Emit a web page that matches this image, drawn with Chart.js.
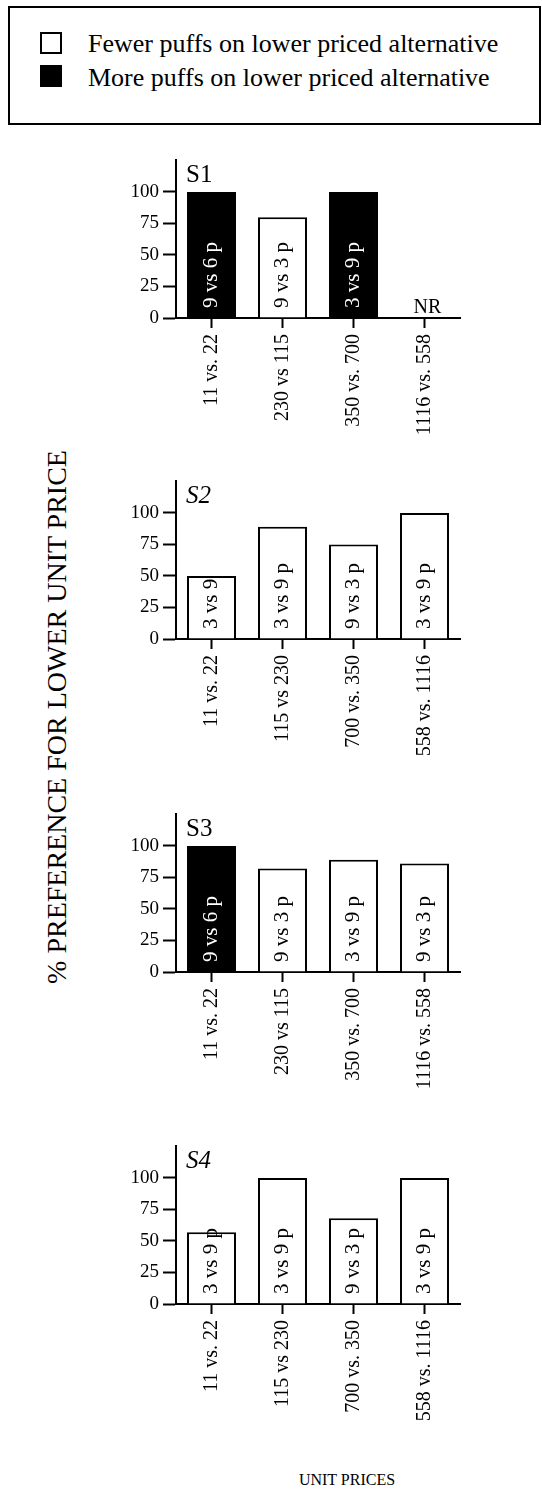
<!DOCTYPE html>
<html>
<head>
<meta charset="utf-8">
<script src="https://cdn.jsdelivr.net/npm/chart.js@4"></script>
<style>
  body { margin: 0; background: #fff; }
  #page { position: relative; width: 542px; height: 1498px; font-family: "Liberation Serif", "Times New Roman", serif; color: #000; }
  canvas { position: absolute; left: 100px; }
  .legend { position: absolute; left: 8px; top: 6px; width: 529px; height: 115px; border: 2px solid #000; }
  .swatch { position: absolute; left: 30px; width: 18px; height: 18px; border: 2px solid #000; }
  .ltext { position: absolute; left: 78px; font-size: 26px; line-height: 26px; white-space: nowrap; }
  .ytitle { position: absolute; left: -243px; top: 703px; width: 600px; text-align: center; font-size: 28px; line-height: 28px; white-space: nowrap; transform: rotate(-90deg); }
  .xtitle { position: absolute; left: 247px; top: 1472px; width: 200px; text-align: center; font-size: 16px; line-height: 16px; }
</style>
</head>
<body>
<div id="page">
  <div class="legend">
    <div class="swatch" style="top:24px;background:#fff"></div>
    <div class="ltext" style="top:23px">Fewer puffs on lower priced alternative</div>
    <div class="swatch" style="top:57px;background:#000"></div>
    <div class="ltext" style="top:57px">More puffs on lower priced alternative</div>
  </div>
  <div class="ytitle">% PREFERENCE FOR LOWER UNIT PRICE</div>
  <canvas id="s1" width="380" height="303" style="top:145px"></canvas>
  <canvas id="s2" width="380" height="303" style="top:466px"></canvas>
  <canvas id="s3" width="380" height="303" style="top:799px"></canvas>
  <canvas id="s4" width="380" height="303" style="top:1131px"></canvas>
  <div class="xtitle">UNIT PRICES</div>
</div>
<script>
// unit prices compared in each subject's sessions
const s1Prices = ['11 vs. 22', '230 vs 115', '350 vs. 700', '1116 vs. 558'];
const s2Prices = ['11 vs. 22', '115 vs 230', '700 vs. 350', '558 vs. 1116'];
const s3Prices = ['11 vs. 22', '230 vs 115', '350 vs. 700', '1116 vs. 558'];
const s4Prices = ['11 vs. 22', '115 vs 230', '700 vs. 350', '558 vs. 1116'];

// % preference for the lower unit price (null = not run)
const s1Pref = [100, 80, 100, null];
const s2Pref = [50, 89, 75, 100];
const s3Pref = [100, 82, 89, 86];
const s4Pref = [57, 100, 68, 100];

// puffs text written in the bars
const s1Puffs = ['9 vs 6 p', '9 vs 3 p', '3 vs 9 p', 'NR'];
const s2Puffs = ['3 vs 9', '3 vs 9 p', '9 vs 3 p', '3 vs 9 p'];
const s3Puffs = ['9 vs 6 p', '9 vs 3 p', '3 vs 9 p', '9 vs 3 p'];
const s4Puffs = ['3 vs 9 p', '3 vs 9 p', '9 vs 3 p', '3 vs 9 p'];

// true = more puffs on lower priced alternative (black bar)
const s1More = [true, false, true, false];
const s2More = [false, false, false, false];
const s3More = [true, false, false, false];
const s4More = [false, false, false, false];

const serif = '"Liberation Serif", "Times New Roman", serif';

const barText = {
  id: 'barText',
  afterDatasetsDraw(chart, args, opts) {
    const ctx = chart.ctx;
    const xs = chart.scales.x, ys = chart.scales.y;
    const base = ys.getPixelForValue(0);
    const vals = chart.data.datasets[0].data;
    ctx.save();
    opts.labels.forEach((txt, i) => {
      const x = xs.getPixelForValue(i);
      if (vals[i] == null) {
        ctx.font = '20px ' + serif;
        ctx.fillStyle = '#000';
        ctx.textAlign = 'center';
        ctx.textBaseline = 'alphabetic';
        ctx.fillText(txt, x + 3, base - 5);
        return;
      }
      ctx.save();
      ctx.translate(x, base - 10);
      ctx.rotate(-Math.PI / 2);
      ctx.font = '21px ' + serif;
      ctx.fillStyle = opts.more[i] ? '#fff' : '#000';
      ctx.textAlign = 'left';
      ctx.textBaseline = 'middle';
      ctx.fillText(txt, 0, 0);
      ctx.restore();
    });
    ctx.font = (opts.italic ? 'italic ' : '') + '25px ' + serif;
    ctx.fillStyle = '#000';
    ctx.textAlign = 'left';
    ctx.textBaseline = 'alphabetic';
    ctx.fillText(opts.name, chart.chartArea.left + 10, chart.chartArea.top + 22);
    ctx.restore();
  }
};

function panel(id, name, italic, prices, pref, puffs, more) {
  return new Chart(document.getElementById(id), {
    type: 'bar',
    data: {
      labels: prices,
      datasets: [{
        data: pref,
        backgroundColor: more.map(m => m ? '#000' : '#fff'),
        borderColor: '#000',
        borderWidth: 2,
        barPercentage: 0.69,
        categoryPercentage: 1
      }]
    },
    options: {
      responsive: false,
      animation: false,
      devicePixelRatio: 1,
      layout: { padding: { top: 10, right: 20, left: 0, bottom: 0 } },
      plugins: {
        legend: { display: false },
        tooltip: { enabled: false },
        barText: { labels: puffs, more: more, name: name, italic: italic }
      },
      scales: {
        x: {
          grid: { drawOnChartArea: false, offset: false, tickLength: 10, tickWidth: 2, tickColor: '#000' },
          border: { color: '#000', width: 2 },
          ticks: { minRotation: 90, maxRotation: 90, padding: 6, color: '#000', font: { family: serif, size: 20 } },
          afterFit(s) { s.height = 130; }
        },
        y: {
          min: 0,
          max: 125,
          afterBuildTicks(s) { s.ticks = s.ticks.filter(t => t.value <= 100); },
          grid: { drawOnChartArea: false, tickLength: 13, tickWidth: 2, tickColor: '#000' },
          border: { color: '#000', width: 2 },
          ticks: { stepSize: 25, padding: 4, color: '#000', font: { family: serif, size: 19 } },
          afterFit(s) { s.width = 76; }
        }
      }
    },
    plugins: [barText]
  });
}

panel('s1', 'S1', false, s1Prices, s1Pref, s1Puffs, s1More);
panel('s2', 'S2', true, s2Prices, s2Pref, s2Puffs, s2More);
panel('s3', 'S3', false, s3Prices, s3Pref, s3Puffs, s3More);
panel('s4', 'S4', true, s4Prices, s4Pref, s4Puffs, s4More);
</script>
</body>
</html>
